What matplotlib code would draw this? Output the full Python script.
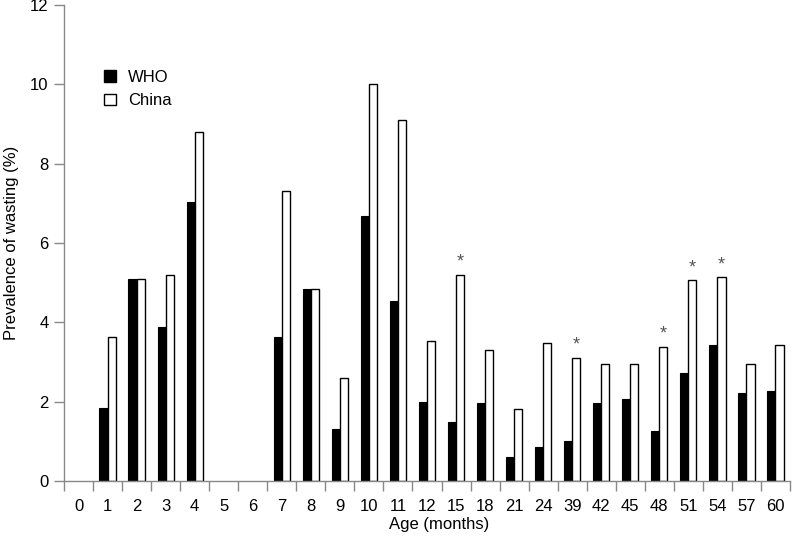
import matplotlib.pyplot as plt
from matplotlib.patches import Patch
import numpy as np

plt.rcParams['font.family'] = ['Liberation Sans', 'DejaVu Sans']

ages = ["0", "1", "2", "3", "4", "5", "6", "7", "8", "9", "10", "11", "12",
        "15", "18", "21", "24", "39", "42", "45", "48", "51", "54", "57", "60"]
who = [0, 1.83, 5.08, 3.89, 7.03, 0, 0, 3.63, 4.83, 1.30, 6.67, 4.55, 2.00,
       1.48, 1.97, 0.60, 0.85, 1.02, 1.97, 2.07, 1.27, 2.73, 3.43, 2.21, 2.27]
china = [0, 3.63, 5.10, 5.20, 8.79, 0, 0, 7.30, 4.85, 2.59, 10.0, 9.11, 3.53,
         5.20, 3.29, 1.82, 3.49, 3.11, 2.96, 2.94, 3.39, 5.06, 5.14, 2.96, 3.42]
starred = ["15", "39", "48", "51", "54"]

fig = plt.figure(figsize=(7.92, 5.38), dpi=100)
ax = fig.add_axes([64 / 792, 57 / 538, 726 / 792, 476 / 538])

x = np.arange(len(ages))
who = np.array(who)
china = np.array(china)
has = china > 0  # ages with no data draw nothing
w = 0.28
ax.bar(x[has] - w / 2, who[has], w, color='black', edgecolor='black', linewidth=0.8)
ax.bar(x[has] + w / 2, china[has], w, color='white', edgecolor='black', linewidth=1.0)

for i, a in enumerate(ages):
    if a in starred:
        ax.text(x[i] + w / 2, china[i] + 0.1, "*", ha='center', va='bottom',
                fontsize=13, color='#555555')

ax.set_xlim(-0.5, len(ages) - 0.5)
ax.set_ylim(0, 12)
ax.set_yticks([0, 2, 4, 6, 8, 10, 12])
ax.set_xticks(x)
ax.set_xticklabels(ages)
ax.set_xticks(np.arange(len(ages) + 1) - 0.5, minor=True)
ax.tick_params(axis='x', which='major', length=0, labelsize=12, pad=13)
ax.tick_params(axis='x', which='minor', length=7, color='#888888', width=1)
ax.tick_params(axis='y', length=7, color='#888888', width=1, labelsize=12, pad=4)

for s in ['top', 'right']:
    ax.spines[s].set_visible(False)
for s in ['left', 'bottom']:
    ax.spines[s].set_color('#888888')
    ax.spines[s].set_linewidth(1)

ax.set_xlabel("Age (months)", fontsize=12, labelpad=2)
ax.xaxis.label.set_x(0.517)
ax.set_ylabel("Prevalence of wasting (%)", fontsize=12, labelpad=8)

handles = [Patch(facecolor='black', edgecolor='black', label='WHO'),
           Patch(facecolor='white', edgecolor='black', label='China')]
ax.legend(handles=handles, loc='upper left', bbox_to_anchor=(0.035, 0.895),
          frameon=False, fontsize=12, handlelength=0.7, handleheight=0.7,
          handletextpad=0.7, labelspacing=0.5)

fig.savefig("out.png", dpi=100)
